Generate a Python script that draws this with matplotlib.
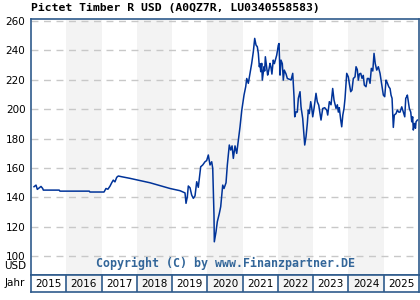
import matplotlib
matplotlib.use("Agg")
import matplotlib.pyplot as plt

title = "Pictet Timber R USD (A0QZ7R, LU0340558583)"
copyright_text = "Copyright (C) by www.Finanzpartner.DE"
years = [2015, 2016, 2017, 2018, 2019, 2020, 2021, 2022, 2023, 2024, 2025]
yticks = [100, 120, 140, 160, 180, 200, 220, 240, 260]

dates = [2015.085, 2015.142, 2015.179, 2015.235, 2015.284, 2015.332, 2015.349, 2015.80, 2015.82,
         2016.653, 2016.67, 2017.070, 2017.126, 2017.18, 2017.240, 2017.288, 2017.333, 2017.38,
         2017.430, 2017.475, 2017.572, 2017.807, 2018.374, 2018.941, 2019.225, 2019.366,
         2019.395, 2019.432, 2019.460, 2019.508, 2019.556, 2019.602, 2019.65, 2019.698, 2019.743,
         2019.811, 2019.868, 2019.933, 2019.98, 2020.027, 2020.075, 2020.123, 2020.152, 2020.188,
         2020.197, 2020.245, 2020.282, 2020.339, 2020.378, 2020.435, 2020.472, 2020.529, 2020.566,
         2020.622, 2020.662, 2020.70, 2020.736, 2020.784, 2020.832, 2020.878, 2020.926, 2020.974,
         2021.039, 2021.087, 2021.116, 2021.161, 2021.209, 2021.257, 2021.303, 2021.342, 2021.379,
         2021.416, 2021.445, 2021.473, 2021.493, 2021.513, 2021.541, 2021.558, 2021.606, 2021.625,
         2021.644, 2021.681, 2021.709, 2021.737, 2021.777, 2021.80, 2021.83, 2021.868, 2021.90,
         2021.966, 2022.012, 2022.032, 2022.06, 2022.088, 2022.125, 2022.153, 2022.181, 2022.23,
         2022.267, 2022.343, 2022.372, 2022.42, 2022.457, 2022.477, 2022.513, 2022.55, 2022.579,
         2022.627, 2022.655, 2022.703, 2022.740, 2022.760, 2022.797, 2022.834, 2022.862, 2022.89,
         2022.930, 2022.958, 2022.987, 2023.024, 2023.080, 2023.117, 2023.157, 2023.194, 2023.222,
         2023.270, 2023.327, 2023.384, 2023.412, 2023.458, 2023.506, 2023.553, 2023.591, 2023.648,
         2023.685, 2023.713, 2023.74, 2023.781, 2023.809, 2023.84, 2023.874, 2023.903, 2023.951,
         2023.996, 2024.024, 2024.064, 2024.10, 2024.138, 2024.186, 2024.215, 2024.25, 2024.280,
         2024.31, 2024.348, 2024.385, 2024.42, 2024.450, 2024.498, 2024.535, 2024.575, 2024.612,
         2024.649, 2024.69, 2024.725, 2024.76, 2024.802, 2024.847, 2024.895, 2024.932, 2024.972,
         2024.989, 2025.028, 2025.065, 2025.10, 2025.142, 2025.18, 2025.207, 2025.236, 2025.272,
         2025.30, 2025.349, 2025.386, 2025.425, 2025.462, 2025.511, 2025.556, 2025.596, 2025.624,
         2025.652, 2025.67, 2025.698, 2025.726, 2025.766, 2025.794, 2025.82, 2025.839, 2025.87,
         2025.90, 2025.916, 2025.953]

prices = [147.2, 148.3, 145.4, 146.5, 147.4, 146.0, 144.9, 144.9, 144.2,
          144.2, 143.6, 143.6, 146.0, 145.5, 147.6, 149.9, 151.7, 150.5,
          153.6, 154.5, 154.0, 152.9, 149.9, 146.0, 144.5, 143.0,
          135.9, 140.4, 147.7, 146.5, 141.5, 139.3, 141.0, 150.6, 146.8,
          160.8, 162.0, 164.2, 165.0, 168.8, 162.0, 164.2, 159.7, 127.9,
          109.7, 116.5, 123.4, 129.0, 133.6, 148.3, 146.0, 149.9, 162.0,
          175.6, 172.2, 175.0, 166.5, 175.0, 169.9, 179.0, 188.0, 199.0,
          209.6, 215.3, 220.9, 217.6, 224.4, 231.2, 239.1, 248.2, 243.7,
          242.5, 238.0, 228.9, 231.0, 225.5, 231.2, 219.8, 228.9, 226.0,
          235.7, 228.9, 223.2, 226.0, 231.2, 229.0, 223.9, 233.4, 231.0,
          236.8, 243.6, 244.7, 223.2, 233.4, 231.0, 219.8, 226.6, 224.0,
          220.9, 220.2, 219.8, 224.4, 208.5, 194.8, 198.2, 198.0, 207.4,
          211.9, 201.6, 193.7, 182.4, 175.6, 181.2, 190.3, 199.4, 197.0,
          205.1, 201.0, 194.8, 200.5, 210.8, 205.0, 202.8, 197.1, 192.6,
          200.5, 201.0, 199.4, 196.0, 205.1, 203.0, 214.1, 206.2, 200.5,
          203.0, 198.0, 201.0, 192.6, 188.0, 196.0, 200.5, 207.4, 224.4,
          222.0, 217.6, 211.9, 213.0, 220.9, 222.0, 228.9, 227.0, 219.8,
          224.0, 224.4, 221.0, 223.0, 216.4, 215.3, 220.9, 220.9, 217.6,
          227.8, 226.0, 238.0, 231.0, 226.6, 228.9, 224.4, 218.7, 213.0,
          209.6, 208.5, 219.8, 218.0, 215.3, 214.0, 209.6, 207.4, 187.6,
          196.0, 197.0, 199.4, 198.0, 198.0, 201.6, 198.0, 194.8, 207.4,
          208.5, 209.6, 205.0, 200.5, 198.0, 191.4, 194.8, 185.8, 190.3,
          187.0, 191.4, 192.6]

frame_col = "#2f5b8c"
shade_col = "#f3f3f3"
line_col = "#003399"
copy_col = "#336699"

fig = plt.figure(figsize=(4.2, 3.0), dpi=100)
fig.patch.set_facecolor("white")

ax = fig.add_axes([31/420, 25/300, 388/420, 256/300])
ax.set_xlim(2015, 2026)
ax.set_ylim(87.1, 261.4)
for y in years:
    if (y - 2015) % 2 == 1:
        ax.axvspan(y, y + 1, color=shade_col, lw=0, zorder=0)
for t in yticks:
    ax.axhline(t, color="#c8c8c8", lw=1, ls=(0, (5, 4)), zorder=1)
ax.plot(dates, prices, color=line_col, lw=1.1, zorder=3)
ax.set_yticks(yticks)
ax.set_yticklabels([str(t) for t in yticks], fontsize=7.5, family="DejaVu Sans")
ax.tick_params(axis="y", length=0, pad=4)
ax.set_xticks([])
for s in ax.spines.values():
    s.set_color(frame_col)
    s.set_linewidth(1.2)
ax.text(0.5, 0.045, copyright_text, transform=ax.transAxes, ha="center", va="center",
        fontsize=8.4, family="DejaVu Sans Mono", fontweight="bold", color=copy_col)

fig.text(26/420, 1 - 266/300, "USD", ha="right", va="center", fontsize=7.5)
fig.text(25/420, 1 - 283/300, "Jahr", ha="right", va="center", fontsize=7.5)
fig.text(31/420, 1 - 8/300, title, ha="left", va="center", fontsize=8.2,
         family="DejaVu Sans Mono", fontweight="bold")

ax2 = fig.add_axes([31/420, 8/300, 388/420, 17/300])
ax2.set_xlim(2015, 2026)
ax2.set_ylim(0, 1)
for y in years:
    if (y - 2015) % 2 == 1:
        ax2.axvspan(y, y + 1, color=shade_col, lw=0, zorder=0)
    if y > 2015:
        ax2.axvline(y, color=frame_col, lw=1.2)
    ax2.text(y + 0.5, 0.45, str(y), ha="center", va="center", fontsize=7.5)
ax2.set_xticks([])
ax2.set_yticks([])
for s in ax2.spines.values():
    s.set_color(frame_col)
    s.set_linewidth(1.2)

fig.savefig("out.png", dpi=100)
